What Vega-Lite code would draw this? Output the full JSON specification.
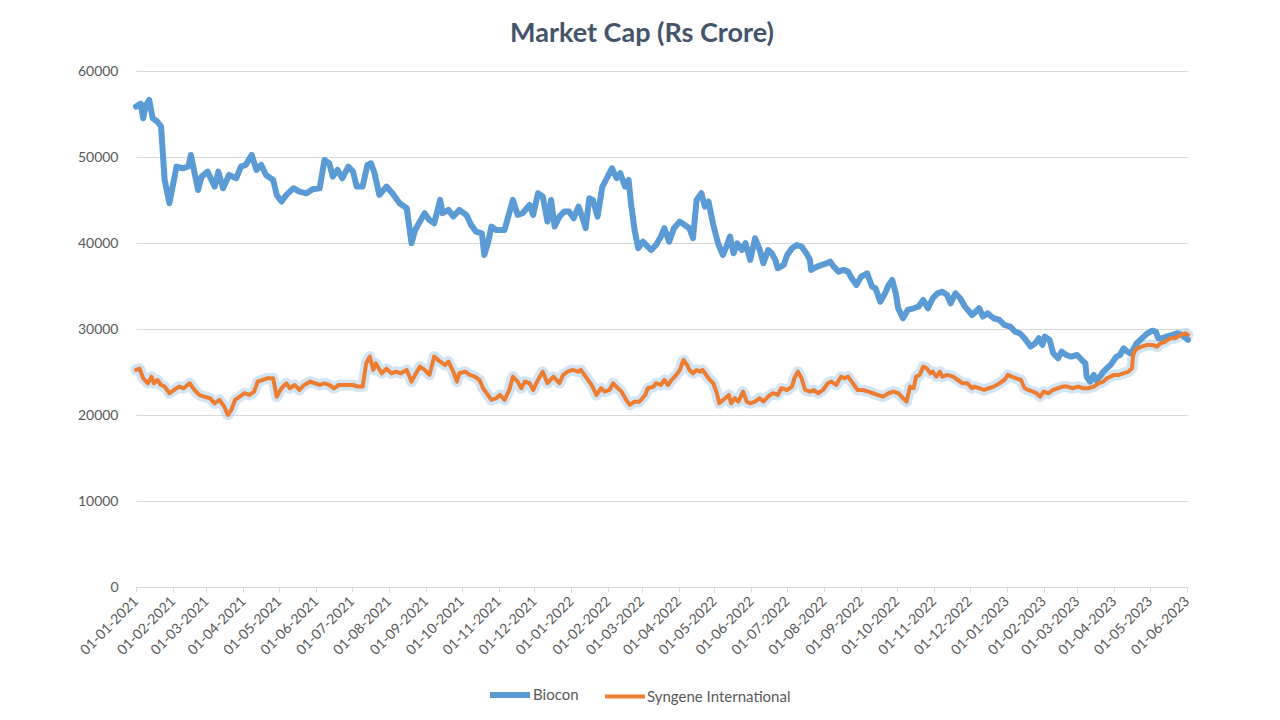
{
  "$schema": "https://vega.github.io/schema/vega-lite/v6.json",
  "width": 1052,
  "height": 516,
  "autosize": {"type": "none"},
  "padding": {"left": 136, "top": 71, "right": 92, "bottom": 133},
  "background": "white",
  "config": {
    "font": "Lato",
    "view": {"stroke": null}
  },
  "title": {
    "text": "Market Cap (Rs Crore)",
    "fontSize": 27,
    "fontWeight": "bold",
    "color": "#44546A",
    "font": "Lato",
    "anchor": "middle",
    "dx": -20,
    "offset": 16
  },
  "data": {
    "values": [
      {"date": "2021-01-01", "series": "Biocon", "value": 55860},
      {"date": "2021-01-05", "series": "Biocon", "value": 56200},
      {"date": "2021-01-07", "series": "Biocon", "value": 54500},
      {"date": "2021-01-09", "series": "Biocon", "value": 55900},
      {"date": "2021-01-12", "series": "Biocon", "value": 56640},
      {"date": "2021-01-15", "series": "Biocon", "value": 54500},
      {"date": "2021-01-19", "series": "Biocon", "value": 54100},
      {"date": "2021-01-22", "series": "Biocon", "value": 53540},
      {"date": "2021-01-25", "series": "Biocon", "value": 47330},
      {"date": "2021-01-29", "series": "Biocon", "value": 44620},
      {"date": "2021-02-04", "series": "Biocon", "value": 48880},
      {"date": "2021-02-09", "series": "Biocon", "value": 48690},
      {"date": "2021-02-14", "series": "Biocon", "value": 48900},
      {"date": "2021-02-16", "series": "Biocon", "value": 50240},
      {"date": "2021-02-22", "series": "Biocon", "value": 46170},
      {"date": "2021-02-25", "series": "Biocon", "value": 47720},
      {"date": "2021-03-02", "series": "Biocon", "value": 48300},
      {"date": "2021-03-08", "series": "Biocon", "value": 46560},
      {"date": "2021-03-11", "series": "Biocon", "value": 48300},
      {"date": "2021-03-15", "series": "Biocon", "value": 46370},
      {"date": "2021-03-20", "series": "Biocon", "value": 47910},
      {"date": "2021-03-26", "series": "Biocon", "value": 47530},
      {"date": "2021-03-30", "series": "Biocon", "value": 48880},
      {"date": "2021-04-03", "series": "Biocon", "value": 49080},
      {"date": "2021-04-08", "series": "Biocon", "value": 50240},
      {"date": "2021-04-12", "series": "Biocon", "value": 48500},
      {"date": "2021-04-16", "series": "Biocon", "value": 49080},
      {"date": "2021-04-20", "series": "Biocon", "value": 47910},
      {"date": "2021-04-26", "series": "Biocon", "value": 47330},
      {"date": "2021-04-29", "series": "Biocon", "value": 45590},
      {"date": "2021-05-03", "series": "Biocon", "value": 44810},
      {"date": "2021-05-07", "series": "Biocon", "value": 45590},
      {"date": "2021-05-13", "series": "Biocon", "value": 46370},
      {"date": "2021-05-18", "series": "Biocon", "value": 45980},
      {"date": "2021-05-24", "series": "Biocon", "value": 45780},
      {"date": "2021-05-29", "series": "Biocon", "value": 46250},
      {"date": "2021-06-04", "series": "Biocon", "value": 46370},
      {"date": "2021-06-08", "series": "Biocon", "value": 49660},
      {"date": "2021-06-12", "series": "Biocon", "value": 49270},
      {"date": "2021-06-15", "series": "Biocon", "value": 47720},
      {"date": "2021-06-19", "series": "Biocon", "value": 48500},
      {"date": "2021-06-23", "series": "Biocon", "value": 47530},
      {"date": "2021-06-28", "series": "Biocon", "value": 48880},
      {"date": "2021-07-02", "series": "Biocon", "value": 48300},
      {"date": "2021-07-05", "series": "Biocon", "value": 46560},
      {"date": "2021-07-10", "series": "Biocon", "value": 46560},
      {"date": "2021-07-14", "series": "Biocon", "value": 49080},
      {"date": "2021-07-17", "series": "Biocon", "value": 49270},
      {"date": "2021-07-20", "series": "Biocon", "value": 48110},
      {"date": "2021-07-24", "series": "Biocon", "value": 45590},
      {"date": "2021-07-30", "series": "Biocon", "value": 46560},
      {"date": "2021-08-04", "series": "Biocon", "value": 45780},
      {"date": "2021-08-10", "series": "Biocon", "value": 44620},
      {"date": "2021-08-16", "series": "Biocon", "value": 44040},
      {"date": "2021-08-20", "series": "Biocon", "value": 39970},
      {"date": "2021-08-23", "series": "Biocon", "value": 41520},
      {"date": "2021-08-27", "series": "Biocon", "value": 42490},
      {"date": "2021-08-31", "series": "Biocon", "value": 43460},
      {"date": "2021-09-04", "series": "Biocon", "value": 42680},
      {"date": "2021-09-08", "series": "Biocon", "value": 42290},
      {"date": "2021-09-13", "series": "Biocon", "value": 45010},
      {"date": "2021-09-15", "series": "Biocon", "value": 43460},
      {"date": "2021-09-20", "series": "Biocon", "value": 43850},
      {"date": "2021-09-24", "series": "Biocon", "value": 43070},
      {"date": "2021-09-29", "series": "Biocon", "value": 43850},
      {"date": "2021-10-05", "series": "Biocon", "value": 43260},
      {"date": "2021-10-09", "series": "Biocon", "value": 42100},
      {"date": "2021-10-13", "series": "Biocon", "value": 41330},
      {"date": "2021-10-18", "series": "Biocon", "value": 41130},
      {"date": "2021-10-20", "series": "Biocon", "value": 38610},
      {"date": "2021-10-23", "series": "Biocon", "value": 39970},
      {"date": "2021-10-26", "series": "Biocon", "value": 41910},
      {"date": "2021-10-30", "series": "Biocon", "value": 41520},
      {"date": "2021-11-06", "series": "Biocon", "value": 41520},
      {"date": "2021-11-13", "series": "Biocon", "value": 45010},
      {"date": "2021-11-17", "series": "Biocon", "value": 43260},
      {"date": "2021-11-21", "series": "Biocon", "value": 43460},
      {"date": "2021-11-27", "series": "Biocon", "value": 44430},
      {"date": "2021-11-30", "series": "Biocon", "value": 43260},
      {"date": "2021-12-04", "series": "Biocon", "value": 45780},
      {"date": "2021-12-08", "series": "Biocon", "value": 45400},
      {"date": "2021-12-12", "series": "Biocon", "value": 42490},
      {"date": "2021-12-15", "series": "Biocon", "value": 45010},
      {"date": "2021-12-18", "series": "Biocon", "value": 41910},
      {"date": "2021-12-22", "series": "Biocon", "value": 43070},
      {"date": "2021-12-26", "series": "Biocon", "value": 43650},
      {"date": "2021-12-30", "series": "Biocon", "value": 43650},
      {"date": "2022-01-03", "series": "Biocon", "value": 42880},
      {"date": "2022-01-07", "series": "Biocon", "value": 44230},
      {"date": "2022-01-10", "series": "Biocon", "value": 43070},
      {"date": "2022-01-13", "series": "Biocon", "value": 41720},
      {"date": "2022-01-16", "series": "Biocon", "value": 45200},
      {"date": "2022-01-19", "series": "Biocon", "value": 45010},
      {"date": "2022-01-23", "series": "Biocon", "value": 43070},
      {"date": "2022-01-27", "series": "Biocon", "value": 46560},
      {"date": "2022-01-30", "series": "Biocon", "value": 47330},
      {"date": "2022-02-04", "series": "Biocon", "value": 48690},
      {"date": "2022-02-08", "series": "Biocon", "value": 47530},
      {"date": "2022-02-11", "series": "Biocon", "value": 48110},
      {"date": "2022-02-15", "series": "Biocon", "value": 46560},
      {"date": "2022-02-18", "series": "Biocon", "value": 47330},
      {"date": "2022-02-20", "series": "Biocon", "value": 44620},
      {"date": "2022-02-23", "series": "Biocon", "value": 41520},
      {"date": "2022-02-26", "series": "Biocon", "value": 39390},
      {"date": "2022-03-02", "series": "Biocon", "value": 40160},
      {"date": "2022-03-06", "series": "Biocon", "value": 39580},
      {"date": "2022-03-09", "series": "Biocon", "value": 39190},
      {"date": "2022-03-13", "series": "Biocon", "value": 39770},
      {"date": "2022-03-17", "series": "Biocon", "value": 40740},
      {"date": "2022-03-20", "series": "Biocon", "value": 41720},
      {"date": "2022-03-24", "series": "Biocon", "value": 40160},
      {"date": "2022-03-28", "series": "Biocon", "value": 41720},
      {"date": "2022-04-02", "series": "Biocon", "value": 42490},
      {"date": "2022-04-06", "series": "Biocon", "value": 42100},
      {"date": "2022-04-10", "series": "Biocon", "value": 41720},
      {"date": "2022-04-13", "series": "Biocon", "value": 40550},
      {"date": "2022-04-16", "series": "Biocon", "value": 45010},
      {"date": "2022-04-20", "series": "Biocon", "value": 45780},
      {"date": "2022-04-23", "series": "Biocon", "value": 44230},
      {"date": "2022-04-26", "series": "Biocon", "value": 44810},
      {"date": "2022-04-30", "series": "Biocon", "value": 42100},
      {"date": "2022-05-04", "series": "Biocon", "value": 39970},
      {"date": "2022-05-08", "series": "Biocon", "value": 38610},
      {"date": "2022-05-11", "series": "Biocon", "value": 39580},
      {"date": "2022-05-14", "series": "Biocon", "value": 40740},
      {"date": "2022-05-17", "series": "Biocon", "value": 38810},
      {"date": "2022-05-20", "series": "Biocon", "value": 39970},
      {"date": "2022-05-24", "series": "Biocon", "value": 39190},
      {"date": "2022-05-27", "series": "Biocon", "value": 39970},
      {"date": "2022-05-31", "series": "Biocon", "value": 38030},
      {"date": "2022-06-04", "series": "Biocon", "value": 40550},
      {"date": "2022-06-08", "series": "Biocon", "value": 39190},
      {"date": "2022-06-11", "series": "Biocon", "value": 37640},
      {"date": "2022-06-15", "series": "Biocon", "value": 39190},
      {"date": "2022-06-18", "series": "Biocon", "value": 38810},
      {"date": "2022-06-21", "series": "Biocon", "value": 38030},
      {"date": "2022-06-23", "series": "Biocon", "value": 37060},
      {"date": "2022-06-28", "series": "Biocon", "value": 37450},
      {"date": "2022-07-01", "series": "Biocon", "value": 38610},
      {"date": "2022-07-05", "series": "Biocon", "value": 39390},
      {"date": "2022-07-09", "series": "Biocon", "value": 39770},
      {"date": "2022-07-13", "series": "Biocon", "value": 39580},
      {"date": "2022-07-17", "series": "Biocon", "value": 38810},
      {"date": "2022-07-20", "series": "Biocon", "value": 38030},
      {"date": "2022-07-21", "series": "Biocon", "value": 36870},
      {"date": "2022-07-26", "series": "Biocon", "value": 37250},
      {"date": "2022-07-30", "series": "Biocon", "value": 37450},
      {"date": "2022-08-03", "series": "Biocon", "value": 37640},
      {"date": "2022-08-06", "series": "Biocon", "value": 37830},
      {"date": "2022-08-09", "series": "Biocon", "value": 37250},
      {"date": "2022-08-13", "series": "Biocon", "value": 36670},
      {"date": "2022-08-17", "series": "Biocon", "value": 36870},
      {"date": "2022-08-21", "series": "Biocon", "value": 36670},
      {"date": "2022-08-24", "series": "Biocon", "value": 35900},
      {"date": "2022-08-28", "series": "Biocon", "value": 35120},
      {"date": "2022-09-01", "series": "Biocon", "value": 36090},
      {"date": "2022-09-06", "series": "Biocon", "value": 36480},
      {"date": "2022-09-10", "series": "Biocon", "value": 34930},
      {"date": "2022-09-13", "series": "Biocon", "value": 34730},
      {"date": "2022-09-17", "series": "Biocon", "value": 33180},
      {"date": "2022-09-21", "series": "Biocon", "value": 34150},
      {"date": "2022-09-24", "series": "Biocon", "value": 35120},
      {"date": "2022-09-27", "series": "Biocon", "value": 35700},
      {"date": "2022-09-30", "series": "Biocon", "value": 34150},
      {"date": "2022-10-02", "series": "Biocon", "value": 32410},
      {"date": "2022-10-06", "series": "Biocon", "value": 31250},
      {"date": "2022-10-10", "series": "Biocon", "value": 32220},
      {"date": "2022-10-15", "series": "Biocon", "value": 32410},
      {"date": "2022-10-19", "series": "Biocon", "value": 32600},
      {"date": "2022-10-23", "series": "Biocon", "value": 33380},
      {"date": "2022-10-27", "series": "Biocon", "value": 32410},
      {"date": "2022-10-31", "series": "Biocon", "value": 33570},
      {"date": "2022-11-04", "series": "Biocon", "value": 34150},
      {"date": "2022-11-08", "series": "Biocon", "value": 34340},
      {"date": "2022-11-12", "series": "Biocon", "value": 33960},
      {"date": "2022-11-15", "series": "Biocon", "value": 32990},
      {"date": "2022-11-19", "series": "Biocon", "value": 34150},
      {"date": "2022-11-23", "series": "Biocon", "value": 33570},
      {"date": "2022-11-27", "series": "Biocon", "value": 32600},
      {"date": "2022-12-03", "series": "Biocon", "value": 31630},
      {"date": "2022-12-09", "series": "Biocon", "value": 32410},
      {"date": "2022-12-12", "series": "Biocon", "value": 31440},
      {"date": "2022-12-16", "series": "Biocon", "value": 31830},
      {"date": "2022-12-21", "series": "Biocon", "value": 31250},
      {"date": "2022-12-26", "series": "Biocon", "value": 31050},
      {"date": "2022-12-30", "series": "Biocon", "value": 30470},
      {"date": "2023-01-04", "series": "Biocon", "value": 30270},
      {"date": "2023-01-08", "series": "Biocon", "value": 29690},
      {"date": "2023-01-12", "series": "Biocon", "value": 29500},
      {"date": "2023-01-16", "series": "Biocon", "value": 28920},
      {"date": "2023-01-21", "series": "Biocon", "value": 27950},
      {"date": "2023-01-25", "series": "Biocon", "value": 28340},
      {"date": "2023-01-28", "series": "Biocon", "value": 28920},
      {"date": "2023-01-31", "series": "Biocon", "value": 28150},
      {"date": "2023-02-02", "series": "Biocon", "value": 29110},
      {"date": "2023-02-06", "series": "Biocon", "value": 28730},
      {"date": "2023-02-09", "series": "Biocon", "value": 27180},
      {"date": "2023-02-13", "series": "Biocon", "value": 26600},
      {"date": "2023-02-16", "series": "Biocon", "value": 27370},
      {"date": "2023-02-20", "series": "Biocon", "value": 26980},
      {"date": "2023-02-24", "series": "Biocon", "value": 26790},
      {"date": "2023-03-01", "series": "Biocon", "value": 26980},
      {"date": "2023-03-05", "series": "Biocon", "value": 26400},
      {"date": "2023-03-08", "series": "Biocon", "value": 26010},
      {"date": "2023-03-09", "series": "Biocon", "value": 24460},
      {"date": "2023-03-12", "series": "Biocon", "value": 23880},
      {"date": "2023-03-15", "series": "Biocon", "value": 24660},
      {"date": "2023-03-17", "series": "Biocon", "value": 24070},
      {"date": "2023-03-20", "series": "Biocon", "value": 24460},
      {"date": "2023-03-23", "series": "Biocon", "value": 25040},
      {"date": "2023-03-26", "series": "Biocon", "value": 25430},
      {"date": "2023-03-29", "series": "Biocon", "value": 25820},
      {"date": "2023-04-01", "series": "Biocon", "value": 26400},
      {"date": "2023-04-03", "series": "Biocon", "value": 26790},
      {"date": "2023-04-06", "series": "Biocon", "value": 26980},
      {"date": "2023-04-09", "series": "Biocon", "value": 27760},
      {"date": "2023-04-12", "series": "Biocon", "value": 27370},
      {"date": "2023-04-15", "series": "Biocon", "value": 27180},
      {"date": "2023-04-17", "series": "Biocon", "value": 27560},
      {"date": "2023-04-20", "series": "Biocon", "value": 28340},
      {"date": "2023-04-23", "series": "Biocon", "value": 28730},
      {"date": "2023-04-26", "series": "Biocon", "value": 29110},
      {"date": "2023-04-29", "series": "Biocon", "value": 29500},
      {"date": "2023-05-03", "series": "Biocon", "value": 29800},
      {"date": "2023-05-06", "series": "Biocon", "value": 29700},
      {"date": "2023-05-08", "series": "Biocon", "value": 28920},
      {"date": "2023-05-11", "series": "Biocon", "value": 28920},
      {"date": "2023-05-15", "series": "Biocon", "value": 29110},
      {"date": "2023-05-20", "series": "Biocon", "value": 29310},
      {"date": "2023-05-24", "series": "Biocon", "value": 29500},
      {"date": "2023-05-28", "series": "Biocon", "value": 29310},
      {"date": "2023-06-02", "series": "Biocon", "value": 28730},
      {"date": "2021-01-01", "series": "Syngene International", "value": 25240},
      {"date": "2021-01-04", "series": "Syngene International", "value": 25390},
      {"date": "2021-01-07", "series": "Syngene International", "value": 24270},
      {"date": "2021-01-11", "series": "Syngene International", "value": 23690},
      {"date": "2021-01-14", "series": "Syngene International", "value": 24460},
      {"date": "2021-01-16", "series": "Syngene International", "value": 23690},
      {"date": "2021-01-19", "series": "Syngene International", "value": 24070},
      {"date": "2021-01-22", "series": "Syngene International", "value": 23490},
      {"date": "2021-01-25", "series": "Syngene International", "value": 23300},
      {"date": "2021-01-29", "series": "Syngene International", "value": 22530},
      {"date": "2021-02-02", "series": "Syngene International", "value": 22910},
      {"date": "2021-02-06", "series": "Syngene International", "value": 23300},
      {"date": "2021-02-10", "series": "Syngene International", "value": 23110},
      {"date": "2021-02-15", "series": "Syngene International", "value": 23690},
      {"date": "2021-02-19", "series": "Syngene International", "value": 22910},
      {"date": "2021-02-23", "series": "Syngene International", "value": 22330},
      {"date": "2021-02-27", "series": "Syngene International", "value": 22130},
      {"date": "2021-03-04", "series": "Syngene International", "value": 21950},
      {"date": "2021-03-08", "series": "Syngene International", "value": 21360},
      {"date": "2021-03-12", "series": "Syngene International", "value": 21750},
      {"date": "2021-03-16", "series": "Syngene International", "value": 20970},
      {"date": "2021-03-19", "series": "Syngene International", "value": 20000},
      {"date": "2021-03-22", "series": "Syngene International", "value": 20590},
      {"date": "2021-03-25", "series": "Syngene International", "value": 21750},
      {"date": "2021-03-29", "series": "Syngene International", "value": 22130},
      {"date": "2021-04-02", "series": "Syngene International", "value": 22530},
      {"date": "2021-04-06", "series": "Syngene International", "value": 22330},
      {"date": "2021-04-10", "series": "Syngene International", "value": 22720},
      {"date": "2021-04-13", "series": "Syngene International", "value": 23880},
      {"date": "2021-04-17", "series": "Syngene International", "value": 24070},
      {"date": "2021-04-21", "series": "Syngene International", "value": 24270},
      {"date": "2021-04-26", "series": "Syngene International", "value": 24270},
      {"date": "2021-04-29", "series": "Syngene International", "value": 22130},
      {"date": "2021-05-03", "series": "Syngene International", "value": 23110},
      {"date": "2021-05-07", "series": "Syngene International", "value": 23690},
      {"date": "2021-05-10", "series": "Syngene International", "value": 23110},
      {"date": "2021-05-14", "series": "Syngene International", "value": 23490},
      {"date": "2021-05-18", "series": "Syngene International", "value": 22910},
      {"date": "2021-05-22", "series": "Syngene International", "value": 23490},
      {"date": "2021-05-27", "series": "Syngene International", "value": 23880},
      {"date": "2021-05-31", "series": "Syngene International", "value": 23690},
      {"date": "2021-06-04", "series": "Syngene International", "value": 23490},
      {"date": "2021-06-08", "series": "Syngene International", "value": 23690},
      {"date": "2021-06-12", "series": "Syngene International", "value": 23490},
      {"date": "2021-06-16", "series": "Syngene International", "value": 23110},
      {"date": "2021-06-20", "series": "Syngene International", "value": 23490},
      {"date": "2021-06-26", "series": "Syngene International", "value": 23490},
      {"date": "2021-07-02", "series": "Syngene International", "value": 23490},
      {"date": "2021-07-06", "series": "Syngene International", "value": 23300},
      {"date": "2021-07-10", "series": "Syngene International", "value": 23300},
      {"date": "2021-07-13", "series": "Syngene International", "value": 26010},
      {"date": "2021-07-16", "series": "Syngene International", "value": 26790},
      {"date": "2021-07-19", "series": "Syngene International", "value": 25240},
      {"date": "2021-07-21", "series": "Syngene International", "value": 26010},
      {"date": "2021-07-26", "series": "Syngene International", "value": 24850},
      {"date": "2021-07-30", "series": "Syngene International", "value": 25390},
      {"date": "2021-08-03", "series": "Syngene International", "value": 24850},
      {"date": "2021-08-07", "series": "Syngene International", "value": 25040},
      {"date": "2021-08-11", "series": "Syngene International", "value": 24850},
      {"date": "2021-08-16", "series": "Syngene International", "value": 25240},
      {"date": "2021-08-20", "series": "Syngene International", "value": 23880},
      {"date": "2021-08-23", "series": "Syngene International", "value": 24660},
      {"date": "2021-08-27", "series": "Syngene International", "value": 25620},
      {"date": "2021-08-31", "series": "Syngene International", "value": 25240},
      {"date": "2021-09-04", "series": "Syngene International", "value": 24660},
      {"date": "2021-09-08", "series": "Syngene International", "value": 26790},
      {"date": "2021-09-13", "series": "Syngene International", "value": 26210},
      {"date": "2021-09-17", "series": "Syngene International", "value": 25820},
      {"date": "2021-09-20", "series": "Syngene International", "value": 26210},
      {"date": "2021-09-24", "series": "Syngene International", "value": 25040},
      {"date": "2021-09-27", "series": "Syngene International", "value": 23880},
      {"date": "2021-09-29", "series": "Syngene International", "value": 24850},
      {"date": "2021-10-04", "series": "Syngene International", "value": 25040},
      {"date": "2021-10-08", "series": "Syngene International", "value": 24660},
      {"date": "2021-10-12", "series": "Syngene International", "value": 24460},
      {"date": "2021-10-16", "series": "Syngene International", "value": 24070},
      {"date": "2021-10-19", "series": "Syngene International", "value": 23110},
      {"date": "2021-10-22", "series": "Syngene International", "value": 22530},
      {"date": "2021-10-26", "series": "Syngene International", "value": 21750},
      {"date": "2021-10-30", "series": "Syngene International", "value": 21950},
      {"date": "2021-11-02", "series": "Syngene International", "value": 22330},
      {"date": "2021-11-06", "series": "Syngene International", "value": 21750},
      {"date": "2021-11-10", "series": "Syngene International", "value": 22910},
      {"date": "2021-11-13", "series": "Syngene International", "value": 24460},
      {"date": "2021-11-17", "series": "Syngene International", "value": 23880},
      {"date": "2021-11-20", "series": "Syngene International", "value": 23110},
      {"date": "2021-11-23", "series": "Syngene International", "value": 23880},
      {"date": "2021-11-27", "series": "Syngene International", "value": 23690},
      {"date": "2021-11-30", "series": "Syngene International", "value": 22910},
      {"date": "2021-12-04", "series": "Syngene International", "value": 24070},
      {"date": "2021-12-08", "series": "Syngene International", "value": 25040},
      {"date": "2021-12-12", "series": "Syngene International", "value": 23690},
      {"date": "2021-12-17", "series": "Syngene International", "value": 24460},
      {"date": "2021-12-22", "series": "Syngene International", "value": 23690},
      {"date": "2021-12-25", "series": "Syngene International", "value": 24660},
      {"date": "2021-12-29", "series": "Syngene International", "value": 25040},
      {"date": "2022-01-02", "series": "Syngene International", "value": 25240},
      {"date": "2022-01-07", "series": "Syngene International", "value": 25040},
      {"date": "2022-01-09", "series": "Syngene International", "value": 25240},
      {"date": "2022-01-13", "series": "Syngene International", "value": 24460},
      {"date": "2022-01-18", "series": "Syngene International", "value": 23490},
      {"date": "2022-01-22", "series": "Syngene International", "value": 22330},
      {"date": "2022-01-26", "series": "Syngene International", "value": 23110},
      {"date": "2022-01-29", "series": "Syngene International", "value": 22720},
      {"date": "2022-02-02", "series": "Syngene International", "value": 22910},
      {"date": "2022-02-05", "series": "Syngene International", "value": 23690},
      {"date": "2022-02-09", "series": "Syngene International", "value": 23110},
      {"date": "2022-02-12", "series": "Syngene International", "value": 22720},
      {"date": "2022-02-16", "series": "Syngene International", "value": 21750},
      {"date": "2022-02-19", "series": "Syngene International", "value": 21170},
      {"date": "2022-02-23", "series": "Syngene International", "value": 21550},
      {"date": "2022-02-27", "series": "Syngene International", "value": 21550},
      {"date": "2022-03-04", "series": "Syngene International", "value": 22330},
      {"date": "2022-03-06", "series": "Syngene International", "value": 23110},
      {"date": "2022-03-11", "series": "Syngene International", "value": 23300},
      {"date": "2022-03-13", "series": "Syngene International", "value": 23690},
      {"date": "2022-03-17", "series": "Syngene International", "value": 23490},
      {"date": "2022-03-20", "series": "Syngene International", "value": 24070},
      {"date": "2022-03-23", "series": "Syngene International", "value": 23490},
      {"date": "2022-03-26", "series": "Syngene International", "value": 24070},
      {"date": "2022-03-30", "series": "Syngene International", "value": 24660},
      {"date": "2022-04-02", "series": "Syngene International", "value": 25240},
      {"date": "2022-04-05", "series": "Syngene International", "value": 26400},
      {"date": "2022-04-08", "series": "Syngene International", "value": 25820},
      {"date": "2022-04-10", "series": "Syngene International", "value": 25240},
      {"date": "2022-04-13", "series": "Syngene International", "value": 24850},
      {"date": "2022-04-16", "series": "Syngene International", "value": 25240},
      {"date": "2022-04-19", "series": "Syngene International", "value": 25040},
      {"date": "2022-04-21", "series": "Syngene International", "value": 25240},
      {"date": "2022-04-26", "series": "Syngene International", "value": 24270},
      {"date": "2022-04-30", "series": "Syngene International", "value": 23690},
      {"date": "2022-05-03", "series": "Syngene International", "value": 22530},
      {"date": "2022-05-05", "series": "Syngene International", "value": 21360},
      {"date": "2022-05-10", "series": "Syngene International", "value": 21950},
      {"date": "2022-05-13", "series": "Syngene International", "value": 22330},
      {"date": "2022-05-15", "series": "Syngene International", "value": 21360},
      {"date": "2022-05-18", "series": "Syngene International", "value": 21950},
      {"date": "2022-05-21", "series": "Syngene International", "value": 21550},
      {"date": "2022-05-25", "series": "Syngene International", "value": 22720},
      {"date": "2022-05-28", "series": "Syngene International", "value": 21550},
      {"date": "2022-05-31", "series": "Syngene International", "value": 21360},
      {"date": "2022-06-04", "series": "Syngene International", "value": 21550},
      {"date": "2022-06-08", "series": "Syngene International", "value": 21950},
      {"date": "2022-06-11", "series": "Syngene International", "value": 21550},
      {"date": "2022-06-15", "series": "Syngene International", "value": 22130},
      {"date": "2022-06-19", "series": "Syngene International", "value": 22530},
      {"date": "2022-06-23", "series": "Syngene International", "value": 22330},
      {"date": "2022-06-26", "series": "Syngene International", "value": 23110},
      {"date": "2022-07-01", "series": "Syngene International", "value": 22910},
      {"date": "2022-07-05", "series": "Syngene International", "value": 23300},
      {"date": "2022-07-07", "series": "Syngene International", "value": 24270},
      {"date": "2022-07-10", "series": "Syngene International", "value": 25040},
      {"date": "2022-07-13", "series": "Syngene International", "value": 24270},
      {"date": "2022-07-16", "series": "Syngene International", "value": 22910},
      {"date": "2022-07-20", "series": "Syngene International", "value": 22720},
      {"date": "2022-07-23", "series": "Syngene International", "value": 22910},
      {"date": "2022-07-27", "series": "Syngene International", "value": 22530},
      {"date": "2022-07-31", "series": "Syngene International", "value": 22910},
      {"date": "2022-08-04", "series": "Syngene International", "value": 23690},
      {"date": "2022-08-07", "series": "Syngene International", "value": 23880},
      {"date": "2022-08-11", "series": "Syngene International", "value": 23490},
      {"date": "2022-08-15", "series": "Syngene International", "value": 24460},
      {"date": "2022-08-18", "series": "Syngene International", "value": 24270},
      {"date": "2022-08-21", "series": "Syngene International", "value": 24460},
      {"date": "2022-08-25", "series": "Syngene International", "value": 23690},
      {"date": "2022-08-29", "series": "Syngene International", "value": 22910},
      {"date": "2022-09-02", "series": "Syngene International", "value": 22910},
      {"date": "2022-09-07", "series": "Syngene International", "value": 22720},
      {"date": "2022-09-11", "series": "Syngene International", "value": 22530},
      {"date": "2022-09-15", "series": "Syngene International", "value": 22330},
      {"date": "2022-09-19", "series": "Syngene International", "value": 22130},
      {"date": "2022-09-24", "series": "Syngene International", "value": 22530},
      {"date": "2022-09-28", "series": "Syngene International", "value": 22720},
      {"date": "2022-10-02", "series": "Syngene International", "value": 22530},
      {"date": "2022-10-06", "series": "Syngene International", "value": 21950},
      {"date": "2022-10-09", "series": "Syngene International", "value": 21550},
      {"date": "2022-10-12", "series": "Syngene International", "value": 23300},
      {"date": "2022-10-15", "series": "Syngene International", "value": 23110},
      {"date": "2022-10-17", "series": "Syngene International", "value": 24460},
      {"date": "2022-10-20", "series": "Syngene International", "value": 24660},
      {"date": "2022-10-23", "series": "Syngene International", "value": 25620},
      {"date": "2022-10-26", "series": "Syngene International", "value": 25430},
      {"date": "2022-10-29", "series": "Syngene International", "value": 24850},
      {"date": "2022-10-31", "series": "Syngene International", "value": 25040},
      {"date": "2022-11-03", "series": "Syngene International", "value": 24460},
      {"date": "2022-11-06", "series": "Syngene International", "value": 25040},
      {"date": "2022-11-08", "series": "Syngene International", "value": 24460},
      {"date": "2022-11-12", "series": "Syngene International", "value": 24660},
      {"date": "2022-11-17", "series": "Syngene International", "value": 24460},
      {"date": "2022-11-21", "series": "Syngene International", "value": 24070},
      {"date": "2022-11-25", "series": "Syngene International", "value": 23690},
      {"date": "2022-11-29", "series": "Syngene International", "value": 23690},
      {"date": "2022-12-03", "series": "Syngene International", "value": 23110},
      {"date": "2022-12-05", "series": "Syngene International", "value": 23300},
      {"date": "2022-12-09", "series": "Syngene International", "value": 23110},
      {"date": "2022-12-13", "series": "Syngene International", "value": 22910},
      {"date": "2022-12-17", "series": "Syngene International", "value": 23110},
      {"date": "2022-12-21", "series": "Syngene International", "value": 23300},
      {"date": "2022-12-26", "series": "Syngene International", "value": 23690},
      {"date": "2022-12-30", "series": "Syngene International", "value": 24070},
      {"date": "2023-01-02", "series": "Syngene International", "value": 24660},
      {"date": "2023-01-05", "series": "Syngene International", "value": 24460},
      {"date": "2023-01-09", "series": "Syngene International", "value": 24270},
      {"date": "2023-01-13", "series": "Syngene International", "value": 24070},
      {"date": "2023-01-16", "series": "Syngene International", "value": 23110},
      {"date": "2023-01-19", "series": "Syngene International", "value": 22910},
      {"date": "2023-01-23", "series": "Syngene International", "value": 22720},
      {"date": "2023-01-26", "series": "Syngene International", "value": 22530},
      {"date": "2023-01-29", "series": "Syngene International", "value": 22130},
      {"date": "2023-02-01", "series": "Syngene International", "value": 22720},
      {"date": "2023-02-05", "series": "Syngene International", "value": 22530},
      {"date": "2023-02-09", "series": "Syngene International", "value": 22910},
      {"date": "2023-02-13", "series": "Syngene International", "value": 23110},
      {"date": "2023-02-17", "series": "Syngene International", "value": 23300},
      {"date": "2023-02-21", "series": "Syngene International", "value": 23300},
      {"date": "2023-02-25", "series": "Syngene International", "value": 23110},
      {"date": "2023-03-02", "series": "Syngene International", "value": 23300},
      {"date": "2023-03-06", "series": "Syngene International", "value": 23110},
      {"date": "2023-03-10", "series": "Syngene International", "value": 23110},
      {"date": "2023-03-15", "series": "Syngene International", "value": 23300},
      {"date": "2023-03-19", "series": "Syngene International", "value": 23690},
      {"date": "2023-03-23", "series": "Syngene International", "value": 23880},
      {"date": "2023-03-26", "series": "Syngene International", "value": 24270},
      {"date": "2023-03-29", "series": "Syngene International", "value": 24460},
      {"date": "2023-04-01", "series": "Syngene International", "value": 24660},
      {"date": "2023-04-05", "series": "Syngene International", "value": 24660},
      {"date": "2023-04-09", "series": "Syngene International", "value": 24850},
      {"date": "2023-04-13", "series": "Syngene International", "value": 25040},
      {"date": "2023-04-16", "series": "Syngene International", "value": 25430},
      {"date": "2023-04-17", "series": "Syngene International", "value": 26980},
      {"date": "2023-04-19", "series": "Syngene International", "value": 27560},
      {"date": "2023-04-21", "series": "Syngene International", "value": 27760},
      {"date": "2023-04-24", "series": "Syngene International", "value": 27950},
      {"date": "2023-04-29", "series": "Syngene International", "value": 28150},
      {"date": "2023-05-03", "series": "Syngene International", "value": 28150},
      {"date": "2023-05-07", "series": "Syngene International", "value": 27950},
      {"date": "2023-05-10", "series": "Syngene International", "value": 28340},
      {"date": "2023-05-14", "series": "Syngene International", "value": 28530},
      {"date": "2023-05-18", "series": "Syngene International", "value": 28920},
      {"date": "2023-05-22", "series": "Syngene International", "value": 28920},
      {"date": "2023-05-27", "series": "Syngene International", "value": 29310},
      {"date": "2023-05-31", "series": "Syngene International", "value": 29500},
      {"date": "2023-06-02", "series": "Syngene International", "value": 29310}
    ]
  },
  "encoding": {
    "x": {
      "field": "date",
      "type": "temporal",
      "scale": {
        "type": "utc",
        "domain": [
          {"year": 2021, "month": 1, "date": 1, "utc": true},
          {"year": 2023, "month": 6, "date": 2, "utc": true}
        ]
      },
      "axis": {
        "title": null,
        "labelExpr": "utcFormat(datum.value, '%d-%m-%Y')",
        "tickCount": {"interval": "month", "step": 1},
        "labelAngle": -45,
        "labelAlign": "right",
        "labelBaseline": "middle",
        "labelPadding": 7,
        "labelFontSize": 14,
        "labelColor": "#595959",
        "labelFont": "Lato",
        "labelOverlap": false,
        "labelFlush": false,
        "grid": false,
        "domainColor": "#D9D9D9",
        "domainWidth": 1,
        "tickColor": "#D9D9D9",
        "tickSize": 5
      }
    },
    "y": {
      "field": "value",
      "type": "quantitative",
      "scale": {"domain": [0, 60000], "nice": false},
      "axis": {
        "title": null,
        "values": [0, 10000, 20000, 30000, 40000, 50000, 60000],
        "format": "d",
        "domain": false,
        "ticks": false,
        "gridColor": "#D9D9D9",
        "gridWidth": 1,
        "labelPadding": 18,
        "labelFontSize": 14,
        "labelColor": "#595959",
        "labelFont": "Lato"
      }
    }
  },
  "layer": [
    {
      "transform": [{"filter": "datum.series === 'Syngene International'"}],
      "mark": {"type": "line", "strokeWidth": 11, "opacity": 0.45, "color": "#9DC3E6", "strokeJoin": "round", "strokeCap": "round"},
      "encoding": {}
    },
    {
      "mark": {"type": "line", "strokeJoin": "round", "strokeCap": "round"},
      "encoding": {
        "color": {
          "field": "series",
          "type": "nominal",
          "scale": {"domain": ["Biocon", "Syngene International"], "range": ["#5B9BD5", "#ED7D31"]},
          "legend": {
            "title": null,
            "orient": "none",
            "direction": "horizontal",
            "legendX": 351,
            "legendY": 601,
            "symbolType": "stroke",
            "symbolSize": 1600,
            "symbolStrokeWidth": 5,
            "labelFontSize": 15,
            "labelColor": "#595959",
            "labelFont": "Lato",
            "labelOffset": 0,
            "columnPadding": 18
          }
        },
        "strokeWidth": {
          "field": "series",
          "type": "nominal",
          "scale": {"domain": ["Biocon", "Syngene International"], "range": [6, 4]},
          "legend": null
        }
      }
    }
  ]
}
